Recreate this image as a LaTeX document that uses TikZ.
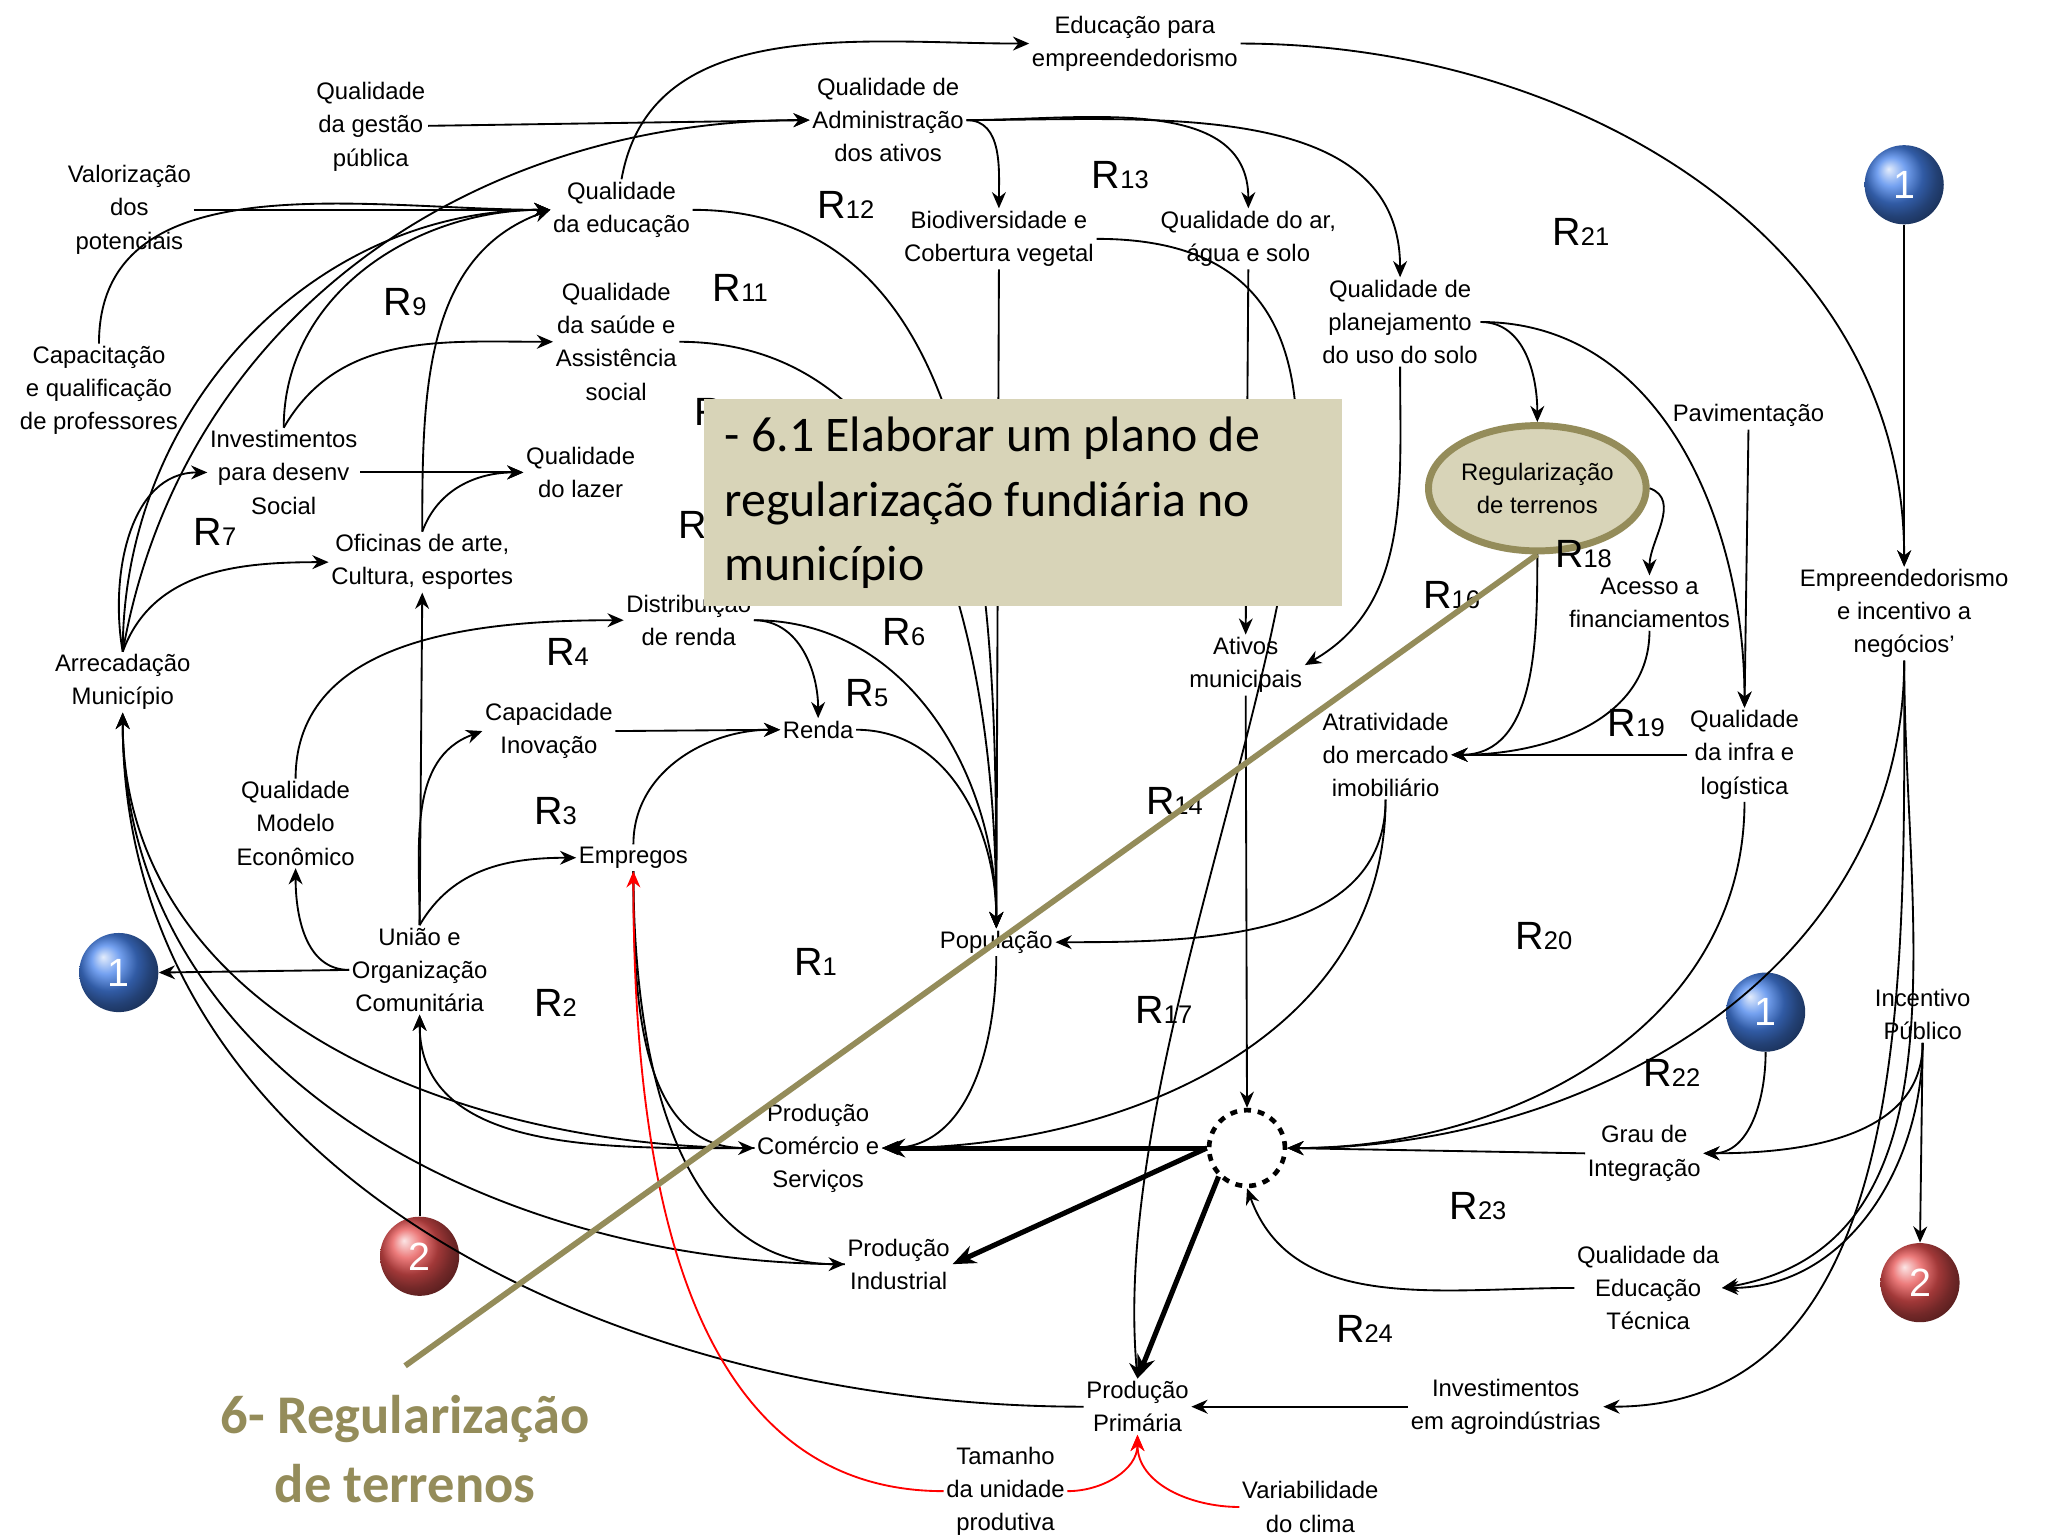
\documentclass[tikz,border=0pt]{standalone}
\usepackage{fontspec}
\setmainfont{Liberation Sans}
\newfontfamily\calib{Carlito}
\usetikzlibrary{arrows.meta,shapes.geometric}
\definecolor{olive}{RGB}{148,140,90}
\definecolor{boxfill}{RGB}{216,212,184}
\definecolor{skyball}{RGB}{70,130,235}
\definecolor{redball}{RGB}{230,80,80}
\newcommand\rlab[1]{{\fontsize{17}{17}\selectfont R}{\fontsize{11}{11}\selectfont #1}}
\begin{document}
\begin{tikzpicture}[x=0.02cm,y=-0.02cm]
\tikzset{
  var/.style={align=center, inner sep=1pt, font=\fontsize{10.3}{14.3}\selectfont},
  loop/.style={inner sep=0pt},
  lnk/.style={-{Stealth[length=7pt,width=6pt]}, thick},
  red lnk/.style={lnk, red},
  strong/.style={-{Stealth[length=10pt,width=8pt]}, line width=2.2pt},
  ball/.style={circle, minimum size=1.2cm, ball color=#1, text=white, font=\fontsize{17}{17}\selectfont, inner sep=0pt}
}
\useasboundingbox (0,0) rectangle (1552,1164);

% variables
\node[var] (eduemp)   at (860,33)   {Educação para\\empreendedorismo};
\node[var] (qadm)     at (673,91)   {Qualidade de\\Administração\\dos ativos};
\node[var] (qgest)    at (281,96)   {Qualidade\\da gestão\\pública};
\node[var] (valor)    at (98,159)   {Valorização\\dos\\potenciais};
\node[var] (qedu)     at (471,159)  {Qualidade\\da educação};
\node[var] (biod)     at (757,181)  {Biodiversidade e\\Cobertura vegetal};
\node[var] (qar)      at (946,181)  {Qualidade do ar,\\água e solo};
\node[var] (qplan)    at (1061,244) {Qualidade de\\planejamento\\do uso do solo};
\node[var] (capac)    at (75,296)   {Capacitação\\e qualificação\\de professores};
\node[var] (qsaude)   at (467,259)  {Qualidade\\da saúde e\\Assistência\\social};
\node[var] (invest)   at (215,358)  {Investimentos\\para desenv\\Social};
\node[var] (qlazer)   at (440,358)  {Qualidade\\do lazer};
\node[var] (oficinas) at (320,426)  {Oficinas de arte,\\Cultura, esportes};
\node[var] (pavim)    at (1325,315) {Pavimentação};
\node[draw=olive, line width=3pt, ellipse, fill=boxfill, minimum width=3.3cm, minimum height=1.9cm] (regul) at (1165,370) {};
\node[var] at (regul) {Regularização\\de terrenos};
\node[var] (acesso)   at (1250,457) {Acesso a\\financiamentos};
\node[var] (empreend) at (1443,465) {Empreendedorismo\\e incentivo a\\negócios'};
\node[var] (distrib)  at (522,470)  {Distribuição\\de renda};
\node[var] (ativos)   at (944,504)  {Ativos\\municipais};
\node[var] (arrec)    at (93,517)   {Arrecadação\\Município};
\node[var] (atrat)    at (1050,572) {Atratividade\\do mercado\\imobiliário};
\node[var] (qinfra)   at (1322,572) {Qualidade\\da infra e\\logística};
\node[var] (capinov)  at (416,554)  {Capacidade\\Inovação};
\node[var] (renda)    at (620,553)  {Renda};
\node[var] (qmodelo)  at (224,624)  {Qualidade\\Modelo\\Econômico};
\node[var] (empregos) at (480,650)  {Empregos};
\node[var] (pop)      at (755,714)  {População};
\node[var] (uniao)    at (318,735)  {União e\\Organização\\Comunitária};
\node[var] (incent)   at (1457,769) {Incentivo\\Público};
\node[var] (prodcom)  at (620,870)  {Produção\\Comércio e\\Serviços};
\node[var] (grau)     at (1246,874) {Grau de\\Integração};
\node[var] (prodind)  at (681,958)  {Produção\\Industrial};
\node[var] (qedtec)   at (1249,976) {Qualidade da\\Educação\\Técnica};
\node[var] (prodprim) at (862,1066) {Produção\\Primária};
\node[var] (invagro)  at (1141,1066){Investimentos\\em agroindústrias};
\node[var] (tamanho)  at (762,1130) {Tamanho\\da unidade\\produtiva};
\node[var] (variab)   at (993,1142) {Variabilidade\\do clima};
\node[circle, draw, dashed, line width=2pt, minimum size=1.15cm] (hub) at (945,870) {};

% linked pages
\node[ball=skyball] (c1a) at (90,737)   {1};
\node[ball=skyball] (c1b) at (1443,140) {1};
\node[ball=skyball] (c1c) at (1338,767) {1};
\node[ball=redball] (c2a) at (318,952)  {2};
\node[ball=redball] (c2b) at (1455,972) {2};

% connectors
\draw[lnk] (qgest) -- (qadm.west);
\draw[lnk] (valor.east) -- (qedu.west);
\draw[lnk] (capac.north) to[out=90,in=180] (qedu.west);
\draw[lnk] (qedu.north) to[out=80,in=180] (eduemp.west);
\draw[lnk] (eduemp.east) to[out=0,in=90] (empreend.north);
\draw[lnk] (qadm.east) to[out=0,in=90] (biod.north);
\draw[lnk] (qadm.east) to[out=0,in=90] (qar.north);
\draw[lnk] (qadm.east) to[out=0,in=90] (qplan.north);
\draw[lnk] (arrec.north) to[out=80,in=180] (qadm.west);
\draw[lnk] (arrec.north) to[out=90,in=180] (qedu.west);
\draw[lnk] (invest.north) to[out=90,in=180] (qedu.west);
\draw[lnk] (invest.north) to[out=60,in=180] (qsaude.west);
\draw[lnk] (invest.east) -- (qlazer.west);
\draw[lnk] (oficinas.north) to[out=90,in=200] (qedu.west);
\draw[lnk] (oficinas.north) to[out=70,in=180] (qlazer.west);
\draw[lnk] (arrec.north) to[out=100,in=180] (invest.west);
\draw[lnk] (arrec.north) to[out=70,in=180] (oficinas.west);
\draw[lnk] (uniao.north) -- (oficinas.south);
\draw[lnk] (uniao.north) to[out=90,in=200] (capinov.west);
\draw[lnk] (uniao.north) to[out=60,in=180] (empregos.west);
\draw[lnk] (uniao.west) to[out=180,in=270] (qmodelo.south);
\draw[lnk] (qmodelo.north) to[out=90,in=180] (distrib.west);
\draw[lnk] (capinov.east) -- (renda.west);
\draw[lnk] (empregos.north) to[out=90,in=180] (renda.west);
\draw[lnk] (distrib.east) to[out=0,in=90] (renda.north);
\draw[lnk] (distrib.east) to[out=0,in=90] (pop.north);
\draw[lnk] (renda.east) to[out=0,in=90] (pop.north);
\draw[lnk] (qedu.east) to[out=0,in=90] (pop.north);
\draw[lnk] (qsaude.east) to[out=0,in=90] (pop.north);
\draw[lnk] (biod.south) -- (pop.north);
\draw[lnk] (biod.east) to[out=0,in=95] (prodprim.north);
\draw[lnk] (qar.south) -- (ativos.north);
\draw[lnk] (qplan.south) to[out=270,in=30] (ativos.east);
\draw[lnk] (qplan.east) to[out=0,in=90] (regul.north);
\draw[lnk] (qplan.east) to[out=0,in=90] (qinfra.north);
\draw[lnk] (regul.east) to[out=-20,in=90] (acesso.north);
\draw[lnk] (regul.south) to[out=270,in=0] (atrat.east);
\draw[lnk] (acesso.south) to[out=270,in=0] (atrat.east);
\draw[lnk] (qinfra.west) -- (atrat.east);
\draw[lnk] (pavim.south) -- (qinfra.north);
\draw[lnk] (atrat.south) to[out=270,in=0] (pop.east);
\draw[lnk] (atrat.south) to[out=270,in=0] (prodcom.east);
\draw[lnk] (pop.south) to[out=270,in=0] (prodcom.east);
\draw[lnk] (ativos.south) -- (hub.north);
\draw[strong] (hub.west) -- (prodcom.east);
\draw[strong] (hub.west) -- (prodind.east);
\draw[strong] (hub.south west) -- (prodprim.north);
\draw[lnk] (grau.west) -- (hub.east);
\draw[lnk] (empreend.south) to[out=270,in=0] (hub.east);
\draw[lnk] (qinfra.south) to[out=270,in=0] (hub.east);
\draw[lnk] (qedtec.west) to[out=180,in=290] (hub.south);
\draw[lnk] (c1b) -- (empreend.north);
\draw[lnk] (c1c.south) to[out=270,in=0] (grau.east);
\draw[lnk] (incent.south) to[out=270,in=0] (grau.east);
\draw[lnk] (incent.south) -- (c2b.north);
\draw[lnk] (incent.south) to[out=270,in=0] (qedtec.east);
\draw[lnk] (empreend.south) to[out=270,in=0] (invagro.east);
\draw[lnk] (empreend.south) to[out=270,in=10] (qedtec.east);
\draw[lnk] (invagro.west) -- (prodprim.east);
\draw[lnk] (empregos.south) to[out=270,in=180] (prodind.west);
\draw[lnk] (empregos.south) to[out=270,in=180] (prodcom.west);
\draw[lnk] (prodcom.west) to[out=180,in=270] (uniao.south);
\draw[lnk] (prodcom.west) to[out=180,in=270] (arrec.south);
\draw[lnk] (prodind.west) to[out=180,in=270] (arrec.south);
\draw[lnk] (prodprim.west) to[out=180,in=270] (arrec.south);
\draw[lnk] (c2a.north) -- (uniao.south);
\draw[lnk] (uniao.west) -- (c1a.east);
\draw[red lnk] (tamanho.east) to[out=0,in=270] (prodprim.south);
\draw[red lnk] (variab.west) to[out=180,in=270] (prodprim.south);
\draw[red lnk] (tamanho.west) to[out=180,in=270] (empregos.south);

% loop labels
\node[loop] (r12) at (641,155) {\rlab{12}};
\node[loop] (r13) at (849,133) {\rlab{13}};
\node[loop] (r21) at (1198,176) {\rlab{21}};
\node[loop] (r11) at (561,218) {\rlab{11}};
\node[loop] (r9)  at (307,229) {\rlab{9}};
\node[loop] (r10) at (548,312) {\rlab{10}};
\node[loop] (r8)  at (530,398) {\rlab{8}};
\node[loop] (r7)  at (163,403) {\rlab{7}};
\node[loop] (r4)  at (430,494) {\rlab{4}};
\node[loop] (r6)  at (685,479) {\rlab{6}};
\node[loop] (r5)  at (657,525) {\rlab{5}};
\node[loop] (r3)  at (421,615) {\rlab{3}};
\node[loop] (r1)  at (618,729) {\rlab{1}};
\node[loop] (r2)  at (421,760) {\rlab{2}};
\node[loop] (r14) at (890,607) {\rlab{14}};
\node[loop] (r16) at (1100,451) {\rlab{16}};
\node[loop] (r18) at (1200,420) {\rlab{18}};
\node[loop] (r19) at (1240,548) {\rlab{19}};
\node[loop] (r20) at (1170,709) {\rlab{20}};
\node[loop] (r17) at (882,765) {\rlab{17}};
\node[loop] (r22) at (1267,813) {\rlab{22}};
\node[loop] (r23) at (1120,914) {\rlab{23}};
\node[loop] (r24) at (1034,1007) {\rlab{24}};

% action box and pointer
\node[fill=boxfill, minimum width=9.68cm, minimum height=3.14cm, anchor=north west, inner sep=0pt] (plano) at (533,302) {};
\node[anchor=west, align=left, font=\calib\fontsize{21.5}{28}\selectfont] (planotxt) at (543,381) {- 6.1 Elaborar um plano de\\regularização fundiária no\\município};
\coordinate (tail) at (307,1035);
\draw[olive, line width=2.5pt] (regul.south) -- (tail);
\node[align=center, text=olive, font=\calib\bfseries\fontsize{23.5}{30}\selectfont] (titulo) at (307,1098) {6- Regularização\\de terrenos};
\end{tikzpicture}
\end{document}
